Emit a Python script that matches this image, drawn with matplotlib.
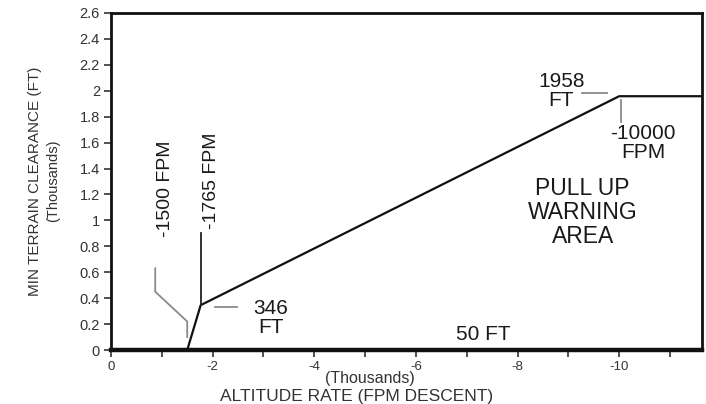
import matplotlib
matplotlib.use("Agg")
import matplotlib.pyplot as plt
from matplotlib.ticker import MultipleLocator, FuncFormatter

plt.rcParams["font.family"] = ["Liberation Sans", "DejaVu Sans"]

# envelope (thousands of FPM / thousands of FT)
curve_x = [-1.5, -1.765, -10.0, -12.0]
curve_y = [0.0, 0.346, 1.958, 1.958]

# leader lines for the annotations
lead_1765_x = [-1.765, -1.765]
lead_1765_y = [0.346, 0.90]
lead_1500_x = [-0.87, -0.87, -1.5, -1.5]
lead_1500_y = [0.63, 0.45, 0.22, 0.10]
lead_346_x = [-2.05, -2.48]
lead_346_y = [0.33, 0.33]
lead_1958_x = [-9.27, -9.76]
lead_1958_y = [1.98, 1.98]
lead_10000_x = [-10.04, -10.04]
lead_10000_y = [1.93, 1.76]

x_even_ticks = [0, -2, -4, -6, -8, -10]

TXT = "#1a1a1a"
GREY = "#8a8a8a"


def main():
    fig = plt.figure(figsize=(7.06, 4.04), dpi=100, facecolor="white")
    ax = fig.add_axes([111 / 706, 54 / 404, 591 / 706, 337 / 404])

    ax.plot(curve_x, curve_y, color="#111111", lw=1.6, solid_capstyle="butt")
    ax.plot(lead_1765_x, lead_1765_y, color="#222222", lw=1.3)
    ax.plot(lead_1500_x, lead_1500_y, color=GREY, lw=1.3)
    ax.plot(lead_346_x, lead_346_y, color=GREY, lw=1.3)
    ax.plot(lead_1958_x, lead_1958_y, color=GREY, lw=1.3)
    ax.plot(lead_10000_x, lead_10000_y, color=GREY, lw=1.3)

    ax.set_xlim(0, -11.63)
    ax.set_ylim(0, 2.6)

    ax.xaxis.set_major_locator(MultipleLocator(1))
    ax.xaxis.set_major_formatter(FuncFormatter(
        lambda v, p: f"{int(round(v))}" if int(round(v)) in x_even_ticks else ""))
    ax.yaxis.set_major_locator(MultipleLocator(0.2))
    ax.yaxis.set_major_formatter(FuncFormatter(lambda v, p: f"{v:g}"))

    ax.tick_params(axis="both", direction="out", length=5, width=1.2,
                   color="#333333", labelcolor="#333333", labelsize=10.5)
    ax.tick_params(axis="x", pad=3, labelsize=9.5)
    ax.tick_params(axis="y", pad=3)

    for side, lw in (("left", 2.0), ("top", 2.0), ("right", 2.0), ("bottom", 3.2)):
        ax.spines[side].set_linewidth(lw)
        ax.spines[side].set_color("#111111")

    big = 15
    ax.text(-1.07, 0.87, "-1500 FPM", rotation=90, ha="center", va="bottom",
            fontsize=14, color=TXT)
    ax.text(-1.97, 0.93, "-1765 FPM", rotation=90, ha="center", va="bottom",
            fontsize=14, color=TXT)
    ax.text(-3.15, 0.25, "346\nFT", ha="center", va="center", fontsize=big,
            color=TXT, linespacing=1.0)
    ax.text(-7.32, 0.12, "50 FT", ha="center", va="center", fontsize=big, color=TXT)
    ax.text(-8.86, 2.0, "1958\nFT", ha="center", va="center", fontsize=big,
            color=TXT, linespacing=1.0)
    ax.text(-10.47, 1.60, "-10000\nFPM", ha="center", va="center", fontsize=big,
            color=TXT, linespacing=1.0)
    ax.text(-9.28, 1.06, "PULL UP\nWARNING\nAREA", ha="center", va="center",
            fontsize=16.5, color=TXT, linespacing=1.05)

    fig.text(35 / 706, 1 - 181 / 404, "MIN TERRAIN CLEARANCE (FT)", rotation=90,
             ha="center", va="center", fontsize=11, color="#333333")
    fig.text(53 / 706, 1 - 181 / 404, "(Thousands)", rotation=90,
             ha="center", va="center", fontsize=10.5, color="#333333")
    fig.text(370 / 706, 1 - 379 / 404, "(Thousands)", ha="center", va="center",
             fontsize=11.5, color="#333333")
    fig.text(357 / 706, 1 - 396 / 404, "ALTITUDE RATE (FPM DESCENT)", ha="center",
             va="center", fontsize=12.5, color="#333333")

    fig.savefig("out.png", dpi=100, facecolor="white")
    plt.close(fig)


if __name__ == "__main__":
    main()
